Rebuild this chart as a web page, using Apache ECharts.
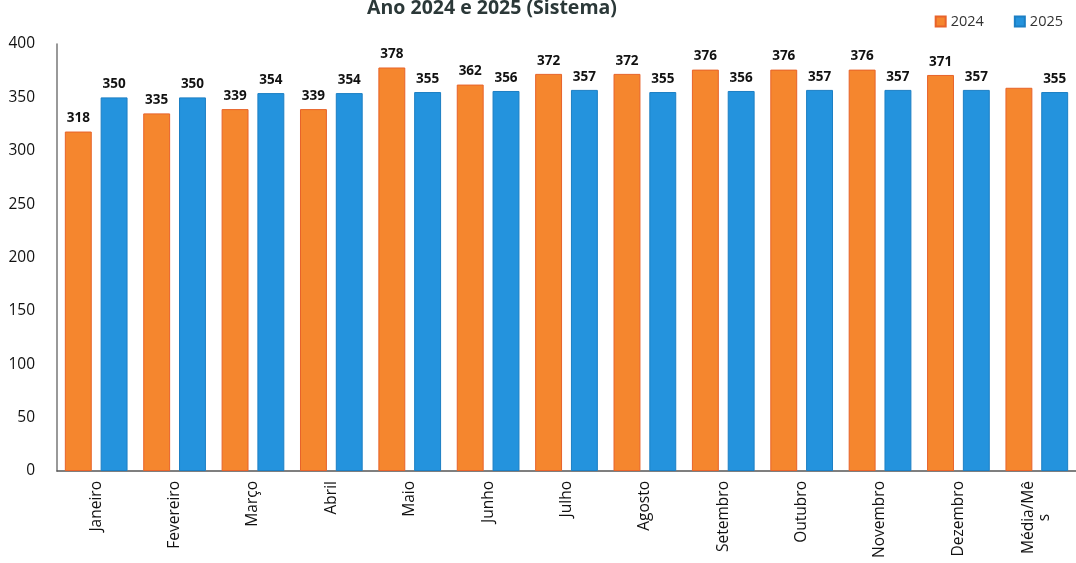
<!DOCTYPE html>
<html><head><meta charset="utf-8">
<script src="https://cdn.jsdelivr.net/npm/echarts@6/dist/echarts.min.js"></script>
<style>html,body{margin:0;padding:0;background:#fff}#c{width:1076px;height:563px}</style>
</head><body><div id="c"></div>
<script>
const categories = ['Janeiro','Fevereiro','Março','Abril','Maio','Junho','Julho','Agosto','Setembro','Outubro','Novembro','Dezembro','Média/Mês'];
const values2024 = [318,335,339,339,378,362,372,372,376,376,376,371,359];
const values2025 = [350,350,354,354,355,356,357,355,356,357,357,357,355];
const yTicks = [0,50,100,150,200,250,300,350,400];
const FONT = 'Open Sans';
const chart = echarts.init(document.getElementById('c'));
const lbl = {show:true, position:'top', distance:6, color:'#111', fontWeight:'bold', fontSize:13.5, fontFamily:FONT};
chart.setOption({
  animation:false,
  title:{text:'Ano 2024 e 2025 (Sistema)', left:487, textAlign:'center', top:-7,
    textStyle:{fontFamily:FONT, fontSize:19.5, fontWeight:'bold', color:'#2b3838'}},
  legend:{right:8, top:9, itemWidth:10, itemHeight:10, itemGap:30, icon:'rect',
    textStyle:{fontFamily:FONT, fontSize:14.5, color:'#333'}},
  grid:{left:57, right:-12, top:44, bottom:92, containLabel:false},
  xAxis:{type:'category', data:categories,
    axisLine:{lineStyle:{color:'#555', width:1.5}}, axisTick:{show:false},
    axisLabel:{rotate:90, interval:0, color:'#111', fontSize:15.5, fontFamily:FONT, margin:10,
      formatter:v=> v==='Média/Mês' ? '{a|Média/Mê}\n{b|s}' : v,
      rich:{a:{fontSize:15.5, fontFamily:FONT, color:'#111'},
            b:{fontSize:15.5, fontFamily:FONT, color:'#111', width:70, align:'center'}}}},
  yAxis:{type:'value', min:yTicks[0], max:yTicks[yTicks.length-1], interval:50,
    splitLine:{show:false}, axisTick:{show:false},
    axisLine:{show:true, lineStyle:{color:'#777', width:1.5}},
    axisLabel:{color:'#111', fontSize:15.5, fontFamily:FONT, margin:22}},
  series:[
    {name:'2024', type:'bar', data:values2024.map((v,i)=> i===values2024.length-1 ? {value:v, label:{show:false}} : v),
      barGap:'33%', barCategoryGap:'20%',
      itemStyle:{color:'#F5862E', borderColor:'#E8632A', borderWidth:1}, label:lbl},
    {name:'2025', type:'bar', data:values2025,
      itemStyle:{color:'#2493DD', borderColor:'#1C7FC4', borderWidth:1}, label:lbl}
  ]
});
</script></body></html>
